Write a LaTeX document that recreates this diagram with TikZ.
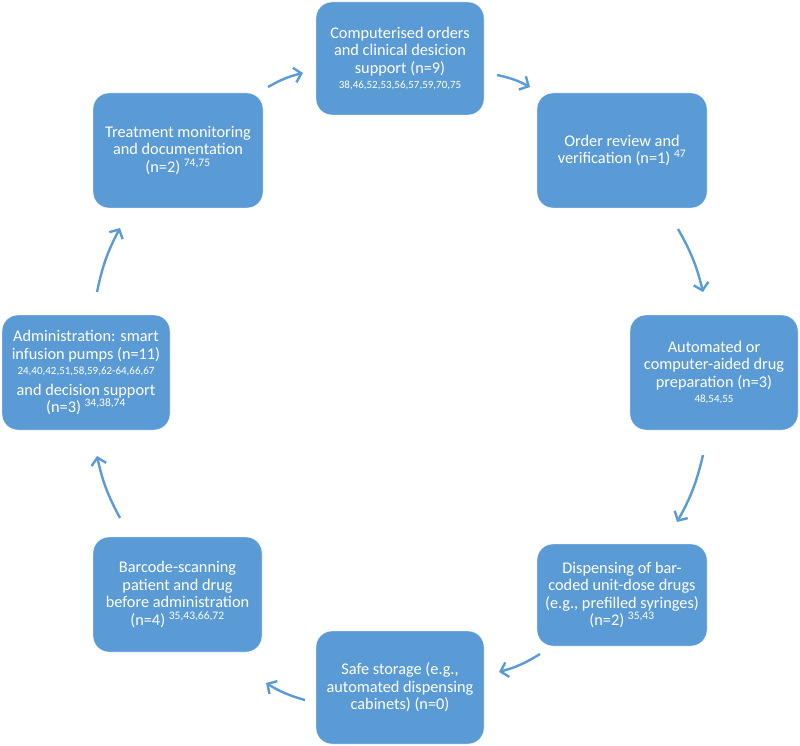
\documentclass[tikz,border=0pt]{standalone}
\usepackage{fontspec}
\setmainfont{Carlito}
\usetikzlibrary{arrows.meta}
\definecolor{boxblue}{HTML}{5B9BD5}
\newcommand{\refnums}[1]{{\fontsize{11}{12}\selectfont #1}}
\newcommand{\supnums}[1]{\textsuperscript{\fontsize{11.5}{12}\selectfont #1}}

\begin{document}
\begin{tikzpicture}[x=1pt,y=-1pt,
  stage/.style={fill=boxblue,draw=white,rounded corners=16pt,text=white,align=center,inner sep=0pt,font=\fontsize{16.3}{17.5}\selectfont},
  flow/.style={boxblue,line width=2.4pt,-{Straight Barb[length=7pt,width=15pt]}}]
\useasboundingbox (0,0) rectangle (800,746);
\node[stage,minimum width=168,minimum height=113] (cpoe) at (400,58.5) {Computerised orders\\and clinical desicion\\support (n=9)\\[-2pt]\refnums{38,46,52,53,56,57,59,70,75}};
\node[stage,minimum width=170,minimum height=115] (review) at (622,150.5) {Order review and\\verification (n=1) \supnums{47}};
\node[stage,minimum width=168,minimum height=115] (prep) at (714,372.5) {Automated or\\computer-aided drug\\preparation (n=3)\\[-2pt]\refnums{48,54,55}};
\node[stage,minimum width=170,minimum height=102] (disp) at (622,595) {Dispensing of bar-\\coded unit-dose drugs\\(e.g., prefilled syringes)\\(n=2) \supnums{35,43}};
\node[stage,minimum width=168,minimum height=113] (store) at (400,687.5) {Safe storage (e.g.,\\automated dispensing\\cabinets) (n=0)};
\node[stage,minimum width=169,minimum height=115] (scan) at (177.5,594.5) {Barcode-scanning\\patient and drug\\before administration\\(n=4) \supnums{35,43,66,72}};
\node[stage,minimum width=168,minimum height=115] (admin) at (86,372.5) {Administration: smart\\infusion pumps (n=11)\\[-2pt]\refnums{24,40,42,51,58,59,62-64,66,67}\\[3pt]and decision support\\(n=3) \supnums{34,38,74}};
\node[stage,minimum width=170,minimum height=115] (monit) at (178,150.5) {Treatment monitoring\\and documentation\\(n=2) \supnums{74,75}};
% arrow ends between the stages
\coordinate (t1) at (268,87); \coordinate (h1) at (303,73);
\coordinate (t2) at (497,75); \coordinate (h2) at (530,87);
\coordinate (t3) at (678,229); \coordinate (h3) at (703,292);
\coordinate (t4) at (703,455); \coordinate (h4) at (677,522);
\coordinate (t5) at (540,654); \coordinate (h5) at (499,672);
\coordinate (t6) at (305,700); \coordinate (h6) at (266,683);
\coordinate (t7) at (120,518); \coordinate (h7) at (97,456);
\coordinate (t8) at (97,292); \coordinate (h8) at (120,228);
\foreach \i in {1,...,8}{\draw[flow] (t\i) to[bend left=8] (h\i);}
\end{tikzpicture}
\end{document}
